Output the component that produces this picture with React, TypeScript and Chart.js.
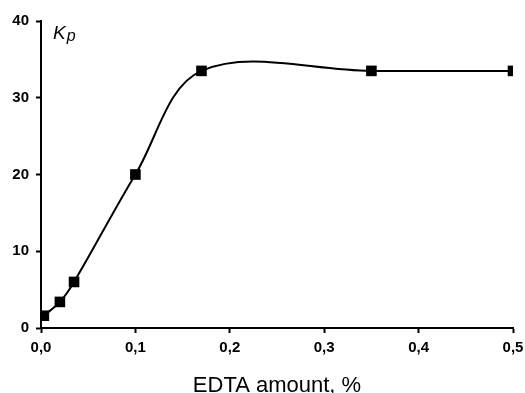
import React, { useEffect, useRef } from "react";
import { Chart, registerables } from "chart.js";

Chart.register(...registerables);

const edtaAmount = [0.003, 0.02, 0.035, 0.1, 0.17, 0.35, 0.5];
const kpValues = [1.6, 3.4, 6.0, 20.0, 33.5, 33.5, 33.5];
const xTickValues = [0, 0.1, 0.2, 0.3, 0.4, 0.5];
const yTickValues = [0, 10, 20, 30, 40];
const xTitle = "EDTA amount, %";

const kpLabel = {
  id: "kpLabel",
  afterDraw(chart: any) {
    const ctx = chart.ctx;
    const left = chart.chartArea.left;
    const top = chart.chartArea.top;
    ctx.save();
    ctx.fillStyle = "#000";
    ctx.textBaseline = "alphabetic";
    ctx.textAlign = "left";
    ctx.font = "italic 19px 'Liberation Sans', Arial, sans-serif";
    ctx.fillText("K", left + 12, top + 18);
    const w = ctx.measureText("K").width;
    ctx.font = "italic 16px 'Liberation Sans', Arial, sans-serif";
    ctx.fillText("p", left + 12 + w + 1, top + 20);
    ctx.restore();
  },
};

export default function App() {
  const ref = useRef<HTMLCanvasElement | null>(null);
  useEffect(() => {
    if (!ref.current) return;
    const chart = new Chart(ref.current, {
      type: "line",
      data: {
        datasets: [
          {
            data: edtaAmount.map((x, i) => ({ x, y: kpValues[i] })),
            borderColor: "#000",
            backgroundColor: "#000",
            borderWidth: 2,
            tension: 0.35,
            pointStyle: "rect",
            pointRadius: 7.5,
            pointBorderWidth: 0,
            pointBackgroundColor: "#000",
          },
        ],
      },
      plugins: [kpLabel],
      options: {
        animation: false,
        responsive: false,
        maintainAspectRatio: false,
        layout: { padding: { left: 0, right: 12, top: 21, bottom: 0 } },
        plugins: { legend: { display: false }, tooltip: { enabled: false } },
        scales: {
          x: {
            type: "linear",
            min: 0,
            max: 0.5,
            afterBuildTicks: (s: any) => {
              s.ticks = xTickValues.map((v) => ({ value: v }));
            },
            afterFit: (s: any) => {
              s.height = 65;
              s.paddingLeft = 0;
              s.paddingRight = 0;
            },
            border: { display: true, color: "#000", width: 2 },
            grid: {
              drawOnChartArea: false,
              drawTicks: true,
              tickLength: 5,
              tickColor: "#000",
              tickWidth: 2,
            },
            ticks: {
              color: "#000",
              padding: 6,
              maxRotation: 0,
              font: { family: "'Liberation Sans', Arial, sans-serif", size: 15, weight: "bold" },
              callback: (v: any) => Number(v).toFixed(1).replace(".", ","),
            },
            title: {
              display: true,
              text: xTitle,
              color: "#000",
              font: { family: "'Liberation Sans', Arial, sans-serif", size: 22, lineHeight: 1 },
              padding: { top: 0, bottom: -4 },
            },
          },
          y: {
            type: "linear",
            min: 0,
            max: 40,
            afterBuildTicks: (s: any) => {
              s.ticks = yTickValues.map((v) => ({ value: v }));
            },
            afterFit: (s: any) => {
              s.width = 41;
              s.paddingTop = 0;
              s.paddingBottom = 0;
            },
            border: { display: true, color: "#000", width: 2 },
            grid: {
              drawOnChartArea: false,
              drawTicks: true,
              tickLength: 5,
              tickColor: "#000",
              tickWidth: 2,
            },
            ticks: {
              color: "#000",
              padding: 7,
              font: { family: "'Liberation Sans', Arial, sans-serif", size: 15, weight: "bold" },
            },
          },
        },
      },
    } as any);
    return () => chart.destroy();
  }, []);
  return (
    <div style={{ position: "fixed", left: 0, top: 0, width: 525, height: 393, background: "#fff" }}>
      <canvas ref={ref} width={525} height={393} style={{ width: 525, height: 393 }} />
    </div>
  );
}
